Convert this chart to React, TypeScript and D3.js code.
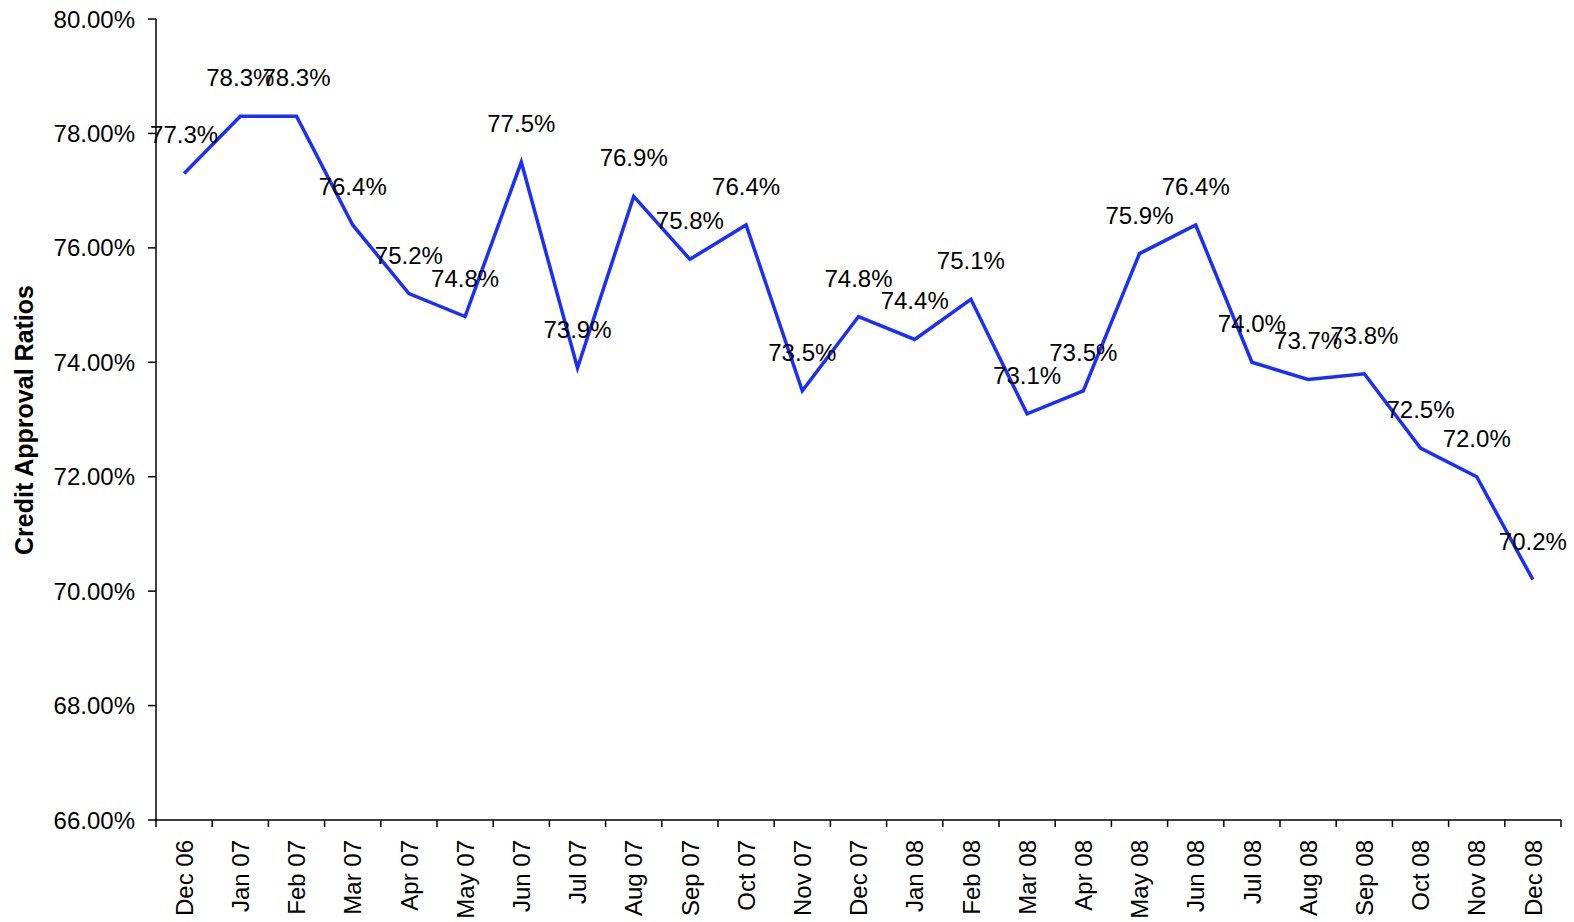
import React from 'react';
import * as d3 from 'd3';

const months = [
  'Dec 06', 'Jan 07', 'Feb 07', 'Mar 07', 'Apr 07', 'May 07', 'Jun 07', 'Jul 07', 'Aug 07',
  'Sep 07', 'Oct 07', 'Nov 07', 'Dec 07', 'Jan 08', 'Feb 08', 'Mar 08', 'Apr 08', 'May 08',
  'Jun 08', 'Jul 08', 'Aug 08', 'Sep 08', 'Oct 08', 'Nov 08', 'Dec 08'
];
const approvalRatios = [
  77.3, 78.3, 78.3, 76.4, 75.2, 74.8, 77.5, 73.9, 76.9, 75.8, 76.4, 73.5, 74.8,
  74.4, 75.1, 73.1, 73.5, 75.9, 76.4, 74.0, 73.7, 73.8, 72.5, 72.0, 70.2
];
const yTicks = [66, 68, 70, 72, 74, 76, 78, 80];

const W = 1574;
const H = 922;
const margin = { top: 19, right: 13, bottom: 102, left: 156 };
const FONT = '"Liberation Sans", Arial, sans-serif';

export default function App() {
  const x = d3.scaleLinear()
    .domain([0, months.length])
    .range([margin.left, W - margin.right]);
  const y = d3.scaleLinear()
    .domain([66, 80])
    .range([H - margin.bottom, margin.top]);

  const line = d3.line<number>()
    .x((_, i) => x(i + 0.5))
    .y(d => y(d));

  const x0 = margin.left;
  const yBase = H - margin.bottom;

  return (
    <svg width={W} height={H} style={{ position: 'absolute', left: 0, top: 0, background: '#fff' }}
      fontFamily={FONT}>
      {/* Y axis */}
      <line x1={x0} x2={x0} y1={y(80)} y2={yBase} stroke="#000" strokeWidth={1.5} />
      {yTicks.map(t => (
        <g key={t}>
          <line x1={x0 - 8} x2={x0} y1={y(t)} y2={y(t)} stroke="#000" strokeWidth={1.5} />
          <text x={x0 - 21} y={y(t)} dy="0.36em" textAnchor="end" fontSize={24} fill="#000">
            {t.toFixed(2)}%
          </text>
        </g>
      ))}
      <text transform={`translate(33,420) rotate(-90)`} textAnchor="middle"
        fontSize={25} fontWeight="bold" fill="#000">Credit Approval Ratios</text>

      {/* X axis */}
      <line x1={x0} x2={x(months.length)} y1={yBase} y2={yBase} stroke="#000" strokeWidth={1.5} />
      {d3.range(months.length + 1).map(i => (
        <line key={i} x1={x(i)} x2={x(i)} y1={yBase} y2={yBase + 7} stroke="#000" strokeWidth={1.5} />
      ))}
      {months.map((m, i) => (
        <text key={m} transform={`translate(${x(i + 0.5)},${yBase + 20}) rotate(-90)`}
          textAnchor="end" dy="0.36em" fontSize={24} fill="#000">{m}</text>
      ))}

      {/* Series */}
      <path d={line(approvalRatios) || ''} fill="none" stroke="#1a2eff" strokeWidth={3.5} strokeLinejoin="miter" />
      {approvalRatios.map((v, i) => (
        <text key={i} x={x(i + 0.5)} y={y(v) - 30} textAnchor="middle" fontSize={24} fill="#000">
          {v.toFixed(1)}%
        </text>
      ))}
    </svg>
  );
}
